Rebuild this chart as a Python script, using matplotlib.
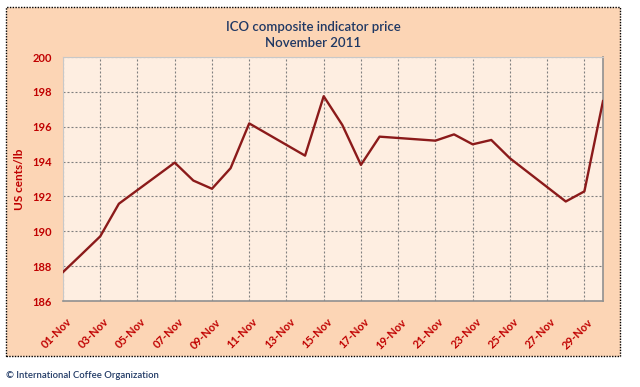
import numpy as np
import pandas as pd
import matplotlib
matplotlib.use("Agg")
import matplotlib.pyplot as plt
import matplotlib.dates as mdates
import matplotlib.transforms as mtransforms
from matplotlib.patches import Rectangle

# ======================================================
# DATA
# ======================================================
dates = ["2011-11-01", "2011-11-02", "2011-11-03", "2011-11-04", "2011-11-07",
         "2011-11-08", "2011-11-09", "2011-11-10", "2011-11-11", "2011-11-14",
         "2011-11-15", "2011-11-16", "2011-11-17", "2011-11-18", "2011-11-21",
         "2011-11-22", "2011-11-23", "2011-11-24", "2011-11-25", "2011-11-28",
         "2011-11-29", "2011-11-30"]
prices = [187.66, 188.68, 189.71, 191.58, 193.94,
          192.91, 192.44, 193.62, 196.19, 194.34,
          197.75, 196.10, 193.81, 195.43, 195.20,
          195.56, 194.99, 195.24, 194.19, 191.71,
          192.29, 197.47]
y_ticks = [186, 188, 190, 192, 194, 196, 198, 200]
x_tick_days = list(range(1, 30, 2))

title = "ICO composite indicator price\nNovember 2011"
y_label = "US cents/lb"
credit = "\u00a9 International Coffee Organization"

# ======================================================
# STYLE
# ======================================================
plt.rcParams['font.family'] = ['Lato', 'DejaVu Sans']
red = '#C00000'
navy = '#1F3864'
line_col = '#8B1A1A'
outer_bg = '#FCD5B5'
plot_bg = '#FEEEE1'

W, H = 640, 387
fig = plt.figure(figsize=(W / 100, H / 100), dpi=100)
fig.patch.set_facecolor('white')

# outer chart area with dotted border
fig.patches.append(Rectangle((6 / W, 1 - 356 / H), (620 - 6) / W, (356 - 7) / H,
                             transform=fig.transFigure, facecolor=outer_bg,
                             edgecolor='black', linestyle=(0, (1, 1)), linewidth=1.0,
                             zorder=-10))

# plot area
left, right, top, bottom = 63, 603, 57, 301
ax = fig.add_axes([left / W, 1 - bottom / H, (right - left) / W, (bottom - top) / H])
ax.set_facecolor(plot_bg)

x = pd.to_datetime(dates)
ax.plot(x, prices, color=line_col, linewidth=1.7, zorder=3)

ax.set_ylim(186, 200)
ax.set_yticks(y_ticks)
ax.set_xlim(pd.Timestamp("2011-11-01"), pd.Timestamp("2011-11-30"))
ax.set_xticks([pd.Timestamp(2011, 11, d) for d in x_tick_days])
ax.xaxis.set_major_formatter(mdates.DateFormatter('%d-%b'))

ax.grid(True, color='#7F7F7F', linestyle=(0, (1.8, 1.8)), linewidth=0.8)
ax.set_axisbelow(True)
ax.tick_params(length=0, colors=red, labelsize=8)
ax.tick_params(axis='y', pad=8)
ax.tick_params(axis='x', pad=11)
shift = mtransforms.ScaledTranslation(3 / 100, 0, fig.dpi_scale_trans)
for lab in ax.get_yticklabels():
    lab.set_fontweight('bold')
for lab in ax.get_xticklabels():
    lab.set_fontweight('bold')
    lab.set_rotation(45)
    lab.set_ha('right')
    lab.set_va('top')
    lab.set_rotation_mode('anchor')
    lab.set_transform(lab.get_transform() + shift)

for side in ['left', 'top']:
    ax.spines[side].set_color('#C8C8C8')
    ax.spines[side].set_linewidth(0.8)
for side in ['right', 'bottom']:
    ax.spines[side].set_color('#909090')
    ax.spines[side].set_linewidth(1.2)

ax.set_ylabel(y_label, color=red, fontsize=8.5, fontweight='bold', labelpad=5)

fig.text(313 / W, 1 - 35 / H, title, ha='center', va='center', color=navy,
         fontsize=9.5, fontweight='semibold', linespacing=1.35)
fig.text(6 / W, 1 - 375 / H, credit, ha='left', va='center', color=navy,
         fontsize=6.8, fontweight='semibold')

plt.savefig("out.png", dpi=100)
